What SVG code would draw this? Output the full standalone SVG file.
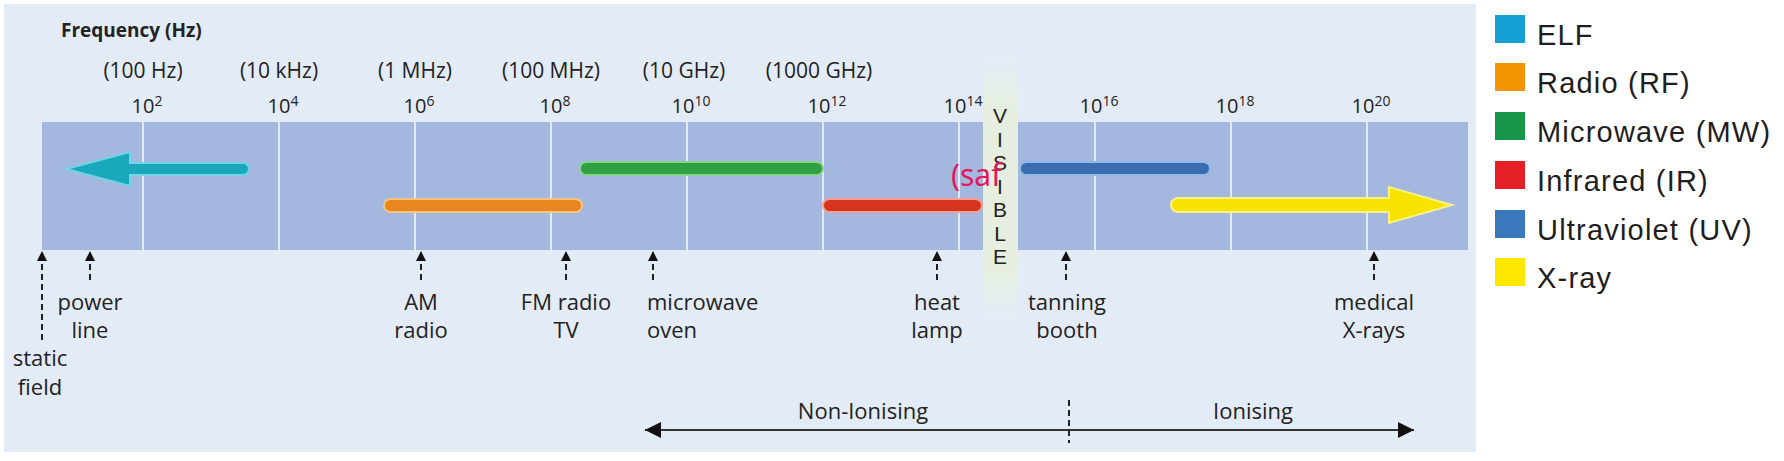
<svg xmlns="http://www.w3.org/2000/svg" width="1784" height="461" viewBox="0 0 1784 461">
<defs>
<style>
.t{font-family:"Open Sans","Noto Sans","Liberation Sans",sans-serif;fill:#222;}
.lbl{font-size:22px;text-anchor:middle;}
.frq{font-size:21px;text-anchor:middle;}
.exp{font-size:20px;text-anchor:middle;}
.sup{font-size:14px;}
.leg{font-family:"Liberation Sans",Arial,sans-serif;font-size:29px;letter-spacing:1.2px;fill:#1e1e1e;}
.grid{stroke:#e2e9f6;stroke-width:2;}
.tick{stroke:#222;stroke-width:2;stroke-dasharray:6 4;fill:none;}
.bar{stroke-width:2;}
</style>
<marker id="tk" viewBox="0 0 10 10" refX="10" refY="5" markerWidth="10" markerHeight="12" markerUnits="userSpaceOnUse" orient="auto"><path d="M0,0 L10,5 L0,10 Z" fill="#111"/></marker>
<marker id="big" viewBox="0 0 10 10" refX="10" refY="5" markerWidth="28" markerHeight="16" markerUnits="userSpaceOnUse" orient="auto"><path d="M0,0 L10,5 L0,10 Z" fill="#111"/></marker>
<linearGradient id="visg" x1="0" y1="0" x2="0" y2="1">
<stop offset="0" stop-color="#e6efdf" stop-opacity="0"/>
<stop offset="0.2" stop-color="#e6efdf" stop-opacity="1"/>
<stop offset="0.8" stop-color="#e6efdf" stop-opacity="1"/>
<stop offset="1" stop-color="#e6efdf" stop-opacity="0"/>
</linearGradient>
</defs>
<rect x="0" y="0" width="1784" height="461" fill="#ffffff"/>
<rect id="panel" x="4" y="4" width="1472" height="448" fill="#e3ebf6"/>

<g id="band">
<rect x="42" y="122" width="941" height="128" fill="#a3b7df"/>
<rect x="1018" y="122" width="450" height="128" fill="#a3b7df"/>
<rect x="983" y="56" width="35" height="264" fill="url(#visg)"/>
<line class="grid" x1="143" y1="122" x2="143" y2="250"/>
<line class="grid" x1="279" y1="122" x2="279" y2="250"/>
<line class="grid" x1="415" y1="122" x2="415" y2="250"/>
<line class="grid" x1="551" y1="122" x2="551" y2="250"/>
<line class="grid" x1="687" y1="122" x2="687" y2="250"/>
<line class="grid" x1="823" y1="122" x2="823" y2="250"/>
<line class="grid" x1="959" y1="122" x2="959" y2="250"/>
<line class="grid" x1="1095" y1="122" x2="1095" y2="250"/>
<line class="grid" x1="1231" y1="122" x2="1231" y2="250"/>
<line class="grid" x1="1367" y1="122" x2="1367" y2="250"/>
</g>

<g id="axis-labels" class="t">
<text x="61" y="37" style="font-size:19px;font-weight:bold">Frequency (Hz)</text>
<text class="frq" x="143" y="78">(100 Hz)</text>
<text class="frq" x="279" y="78">(10 kHz)</text>
<text class="frq" x="415" y="78">(1 MHz)</text>
<text class="frq" x="551" y="78">(100 MHz)</text>
<text class="frq" x="684" y="78">(10 GHz)</text>
<text class="frq" x="819" y="78">(1000 GHz)</text>
<text class="exp" x="147" y="113">10<tspan class="sup" dy="-7">2</tspan></text>
<text class="exp" x="283" y="113">10<tspan class="sup" dy="-7">4</tspan></text>
<text class="exp" x="419" y="113">10<tspan class="sup" dy="-7">6</tspan></text>
<text class="exp" x="555" y="113">10<tspan class="sup" dy="-7">8</tspan></text>
<text class="exp" x="691" y="113">10<tspan class="sup" dy="-7">10</tspan></text>
<text class="exp" x="827" y="113">10<tspan class="sup" dy="-7">12</tspan></text>
<text class="exp" x="963" y="113">10<tspan class="sup" dy="-7">14</tspan></text>
<text class="exp" x="1099" y="113">10<tspan class="sup" dy="-7">16</tspan></text>
<text class="exp" x="1235" y="113">10<tspan class="sup" dy="-7">18</tspan></text>
<text class="exp" x="1371" y="113">10<tspan class="sup" dy="-7">20</tspan></text>
</g>

<g id="visible">
<text x="1000" y="104" writing-mode="vertical-rl" style="font-family:'Liberation Sans',Arial,sans-serif;font-size:21px;fill:#222;text-orientation:upright;letter-spacing:0.5px">VISIBLE</text>
</g>

<g id="elf"><path class="bar" d="M66,169 L130,152 L130,163 L243,163 A6,6 0 0 1 243,175 L130,175 L130,186 Z" fill="#1aa8bd" stroke="#72d4e4"/></g>
<g id="radio"><rect class="bar" x="384" y="199" width="198" height="13" rx="6.5" fill="#e8871d" stroke="#f8c480"/></g>
<g id="microwave"><rect class="bar" x="580" y="162" width="243" height="13" rx="6.5" fill="#2f9f40" stroke="#86d48e"/></g>
<g id="infrared"><rect class="bar" x="823" y="199" width="159" height="13" rx="6.5" fill="#d6341f" stroke="#f5a093"/></g>
<g id="ultraviolet"><rect class="bar" x="1020" y="162" width="190" height="13" rx="6.5" fill="#3a6cb0" stroke="#93b8e8"/></g>
<g id="xray"><path class="bar" d="M1178,198 L1389,198 L1389,187 L1452,205 L1389,223 L1389,212 L1178,212 A7,7 0 0 1 1178,198 Z" fill="#f6e400" stroke="#fbf185"/></g>

<text x="951" y="186" style="font-family:'Noto Sans','DejaVu Sans',sans-serif;font-size:30px;fill:#e3185c">(saf</text>

<g id="connectors">
<line class="tick" x1="42" y1="340" x2="42" y2="251" marker-end="url(#tk)"/>
<line class="tick" x1="90" y1="280" x2="90" y2="251" marker-end="url(#tk)"/>
<line class="tick" x1="421" y1="280" x2="421" y2="251" marker-end="url(#tk)"/>
<line class="tick" x1="566" y1="280" x2="566" y2="251" marker-end="url(#tk)"/>
<line class="tick" x1="653" y1="280" x2="653" y2="251" marker-end="url(#tk)"/>
<line class="tick" x1="937" y1="280" x2="937" y2="251" marker-end="url(#tk)"/>
<line class="tick" x1="1066" y1="280" x2="1066" y2="251" marker-end="url(#tk)"/>
<line class="tick" x1="1374" y1="280" x2="1374" y2="251" marker-end="url(#tk)"/>
<line x1="1069" y1="430" x2="645" y2="430" stroke="#333" stroke-width="2" marker-end="url(#big)"/>
<line x1="1069" y1="430" x2="1414" y2="430" stroke="#333" stroke-width="2" marker-end="url(#big)"/>
<line class="tick" x1="1069" y1="400" x2="1069" y2="443"/>
</g>

<g id="sources" class="t">
<text class="lbl" x="90" y="310">power</text>
<text class="lbl" x="90" y="338">line</text>
<text class="lbl" x="40" y="366">static</text>
<text class="lbl" x="40" y="395">field</text>
<text class="lbl" x="421" y="310">AM</text>
<text class="lbl" x="421" y="338">radio</text>
<text class="lbl" x="566" y="310">FM radio</text>
<text class="lbl" x="566" y="338">TV</text>
<text x="647" y="310" style="font-size:22px">microwave</text>
<text x="647" y="338" style="font-size:22px">oven</text>
<text class="lbl" x="937" y="310">heat</text>
<text class="lbl" x="937" y="338">lamp</text>
<text class="lbl" x="1067" y="310">tanning</text>
<text class="lbl" x="1067" y="338">booth</text>
<text class="lbl" x="1374" y="310">medical</text>
<text class="lbl" x="1374" y="338">X-rays</text>
<text class="lbl" x="863" y="419">Non-Ionising</text>
<text class="lbl" x="1253" y="419">Ionising</text>
</g>

<g id="legend">
<rect x="1495" y="15" width="30" height="28" fill="#159fd4"/>
<text class="leg" x="1537" y="45">ELF</text>
<rect x="1495" y="63" width="30" height="28" fill="#f39400"/>
<text class="leg" x="1537" y="93">Radio (RF)</text>
<rect x="1495" y="112" width="30" height="28" fill="#17964a"/>
<text class="leg" x="1537" y="142">Microwave (MW)</text>
<rect x="1495" y="161" width="30" height="28" fill="#e41f26"/>
<text class="leg" x="1537" y="191">Infrared (IR)</text>
<rect x="1495" y="210" width="30" height="28" fill="#3b78bb"/>
<text class="leg" x="1537" y="240">Ultraviolet (UV)</text>
<rect x="1495" y="258" width="30" height="28" fill="#ffe800"/>
<text class="leg" x="1537" y="288">X-ray</text>
</g>
</svg>
